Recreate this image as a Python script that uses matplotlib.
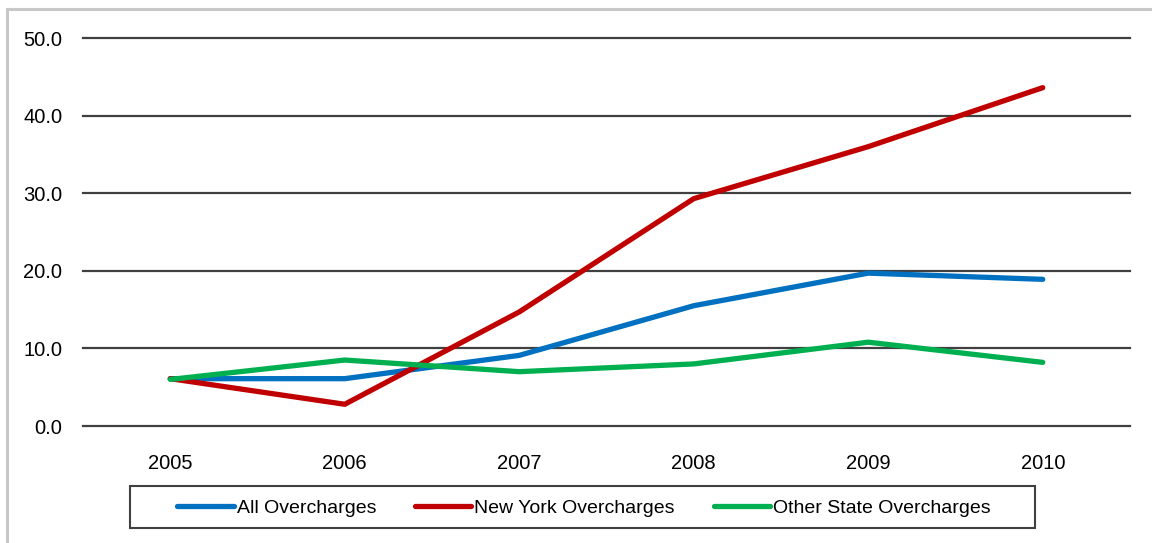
import matplotlib
matplotlib.use("Agg")
import matplotlib.pyplot as plt
from matplotlib.lines import Line2D
from matplotlib.patches import Rectangle

years = ["2005", "2006", "2007", "2008", "2009", "2010"]
all_over = [6.1, 6.1, 9.1, 15.5, 19.7, 18.9]
ny_over = [6.1, 2.8, 14.7, 29.3, 36.0, 43.6]
other_over = [6.0, 8.5, 7.0, 8.0, 10.8, 8.2]
series_names = ["All Overcharges", "New York Overcharges", "Other State Overcharges"]
colors = ["#0070C0", "#C00000", "#00B050"]
yticks = [0, 10, 20, 30, 40, 50]

plt.rcParams['font.family'] = ['Liberation Sans Narrow', 'Liberation Sans', 'DejaVu Sans']

W, H = 1152, 543
fig = plt.figure(figsize=(W/100, H/100), dpi=100)
ax = fig.add_axes([83/W, 1-426/H, (1130-83)/W, (426-38)/H])

x = [i + 0.5 for i in range(len(years))]
for vals, c, name in zip([all_over, ny_over, other_over], colors, series_names):
    ax.plot(x, vals, color=c, lw=3.8, solid_capstyle='round', solid_joinstyle='miter',
            label=name, zorder=3, clip_on=False)

ax.set_xlim(0, 6)
ax.set_ylim(0, 50)
ax.set_yticks(yticks)
ax.set_yticklabels([f"{v:.1f}" for v in yticks], fontsize=14.5)
ax.set_xticks(x)
ax.set_xticklabels(years, fontsize=14.5)
ax.tick_params(axis='y', length=0, pad=15)
ax.tick_params(axis='x', length=0, pad=20)
for s in ax.spines.values():
    s.set_visible(False)
for v in yticks:
    ax.axhline(v, color='#404040', lw=1.6, zorder=1, clip_on=False)

leg = fig.legend(handles=[Line2D([0], [0], color=c, lw=3.8, solid_capstyle='round') for c in colors],
                 labels=series_names, loc='center', bbox_to_anchor=(584/W, 1-508/H),
                 ncol=3, fontsize=14, frameon=False,
                 handlelength=2.9, handletextpad=0.15, columnspacing=2.0, borderpad=0.3)
fig.add_artist(Rectangle((130/W, 1-528/H), (1035-130)/W, 42/H, transform=fig.transFigure,
                         fill=False, edgecolor='#404040', lw=1.5))

# outer light border (top and left)
fig.add_artist(Line2D([7/W, 7/W], [0, 1-9/H], color='#c8c8c8', lw=2.2, transform=fig.transFigure))
fig.add_artist(Line2D([7/W, 1], [1-9/H, 1-9/H], color='#c8c8c8', lw=2.2, transform=fig.transFigure))

fig.savefig("out.png", dpi=100, facecolor='white')
